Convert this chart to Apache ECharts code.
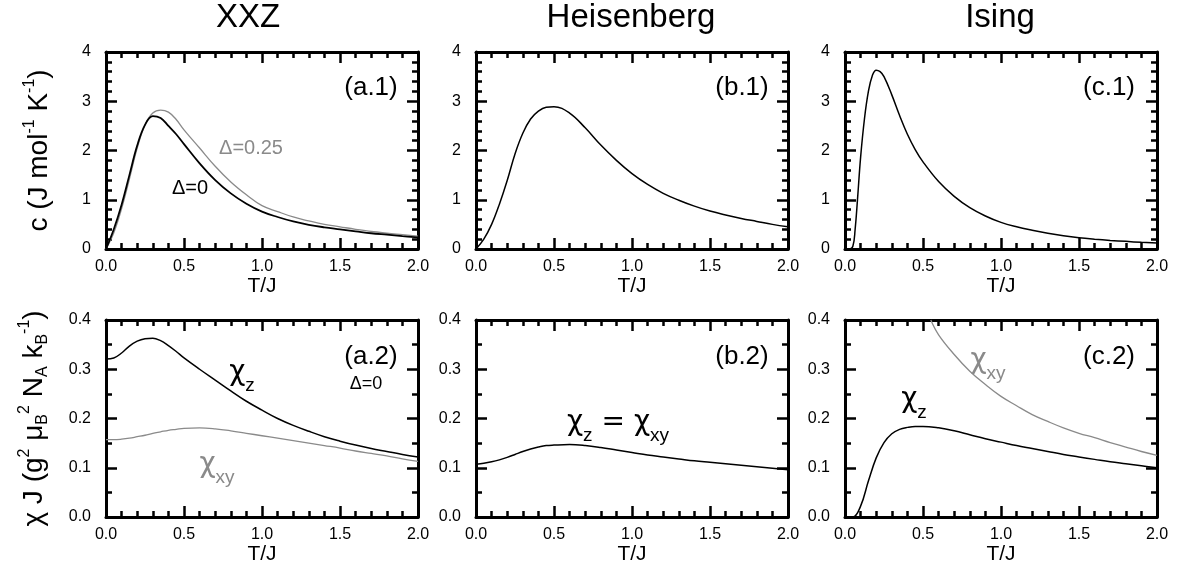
<!DOCTYPE html>
<html>
<head>
<meta charset="utf-8">
<title>XXZ / Heisenberg / Ising</title>
<script src="https://cdn.jsdelivr.net/npm/echarts@6/dist/echarts.min.js"></script>
<style>
  html, body { margin: 0; padding: 0; background: #fff; }
  #main { width: 1186px; height: 579px; }
</style>
</head>
<body>
<div id="main"></div>
<script>
// ---- values ----
var tGrid = [0, 0.05, 0.1, 0.15, 0.2, 0.25, 0.3, 0.35, 0.4, 0.45, 0.5,
             0.6, 0.7, 0.8, 0.9, 1.0, 1.1, 1.2, 1.3, 1.4, 1.5, 1.6, 1.7, 1.8, 1.9, 2.0];

// specific heat c (J mol^-1 K^-1)
var cXXZ0   = [0, 0.4, 0.9, 1.5, 2.1, 2.52, 2.70, 2.66, 2.5, 2.33, 2.13,
               1.74, 1.4, 1.13, 0.92, 0.76, 0.65, 0.56, 0.49, 0.44, 0.4, 0.36, 0.32, 0.29, 0.26, 0.235];
var cXXZ025 = [0, 0.33, 0.82, 1.42, 2.05, 2.52, 2.76, 2.82, 2.78, 2.63, 2.42,
               2.05, 1.68, 1.36, 1.1, 0.88, 0.76, 0.65, 0.57, 0.5, 0.45, 0.4, 0.36, 0.32, 0.29, 0.26];
var cHeis   = [0, 0.2, 0.5, 0.91, 1.39, 1.93, 2.35, 2.64, 2.8, 2.88, 2.89,
               2.76, 2.46, 2.11, 1.8, 1.53, 1.31, 1.13, 0.99, 0.87, 0.77, 0.69, 0.62, 0.56, 0.5, 0.45];
var tIsingC = [0, 0.025, 0.05, 0.065, 0.08, 0.1, 0.125, 0.15, 0.175, 0.2, 0.225, 0.25, 0.3, 0.35, 0.4, 0.45, 0.5,
               0.6, 0.7, 0.8, 0.9, 1.0, 1.1, 1.2, 1.3, 1.4, 1.5, 1.6, 1.7, 1.8, 1.9, 2.0];
var cIsing  = [0, 0, 0.05, 0.4, 1.0, 1.86, 2.65, 3.2, 3.52, 3.63, 3.6, 3.5, 3.13, 2.71, 2.33, 2.02, 1.77,
               1.37, 1.07, 0.84, 0.67, 0.54, 0.45, 0.38, 0.32, 0.27, 0.23, 0.2, 0.175, 0.155, 0.135, 0.12];

// susceptibility chi J
var chiZXXZ   = [0.321, 0.323, 0.333, 0.347, 0.357, 0.362, 0.363, 0.358, 0.348, 0.336, 0.323,
                 0.3, 0.278, 0.256, 0.235, 0.217, 0.2, 0.186, 0.174, 0.163, 0.154, 0.146, 0.139, 0.133, 0.127, 0.122];
var chiXYXXZ  = [0.157, 0.157, 0.158, 0.16, 0.163, 0.166, 0.17, 0.173, 0.176, 0.178, 0.18,
                 0.181, 0.179, 0.175, 0.17, 0.165, 0.16, 0.155, 0.15, 0.145, 0.14, 0.134, 0.129, 0.124, 0.118, 0.113];
var chiHeis   = [0.107, 0.109, 0.112, 0.116, 0.121, 0.127, 0.133, 0.138, 0.142, 0.145, 0.146,
                 0.147, 0.145, 0.141, 0.136, 0.131, 0.126, 0.122, 0.118, 0.114, 0.111, 0.108, 0.105, 0.102, 0.099, 0.096];
var chiZIsing = [0, 0, 0.022, 0.073, 0.12, 0.151, 0.169, 0.178, 0.182, 0.184, 0.184,
                 0.181, 0.175, 0.167, 0.159, 0.152, 0.145, 0.139, 0.133, 0.127, 0.122, 0.117, 0.112, 0.108, 0.104, 0.1];
var tIsingXY  = [0.55, 0.6, 0.7, 0.8, 0.9, 1.0, 1.1, 1.2, 1.3, 1.4, 1.5, 1.6, 1.7, 1.8, 1.9, 2.0];
var chiXYIsing = [0.40, 0.37, 0.33, 0.296, 0.269, 0.245, 0.226, 0.208, 0.194, 0.181, 0.17, 0.161, 0.151, 0.142, 0.133, 0.125];

var FONT = 'Liberation Sans, Arial, sans-serif';
var GRAY = '#8a8a8a';

function zip(t, v) {
  var out = [];
  for (var i = 0; i < t.length; i++) out.push([t[i], v[i]]);
  return out;
}

// panel layout (px)
var colLeft = [106, 476, 845];
var rowTop = [52, 320];
var W = 312, H = 197;

var grids = [], xAxes = [], yAxes = [], series = [];

function xAxis(g, top) {
  return {
    type: 'value', gridIndex: g, position: top ? 'top' : 'bottom',
    min: 0, max: 2, interval: 0.5,
    axisLine: { show: true, onZero: false, lineStyle: { color: '#000', width: 3 } },
    axisTick: { show: true, inside: true, length: 11, lineStyle: { color: '#000', width: 2.5 } },
    minorTick: { show: true, splitNumber: 5, length: 6, lineStyle: { color: '#000', width: 2.5 } },
    splitLine: { show: false },
    axisLabel: { show: !top, fontSize: 16, color: '#000', margin: 10,
      formatter: function (v) { return v.toFixed(1); } },
    name: top ? '' : 'T/J', nameLocation: 'middle', nameGap: 27,
    nameTextStyle: { fontSize: 21, color: '#000' }
  };
}

function yAxis(g, right, low) {
  return {
    type: 'value', gridIndex: g, position: right ? 'right' : 'left',
    min: 0, max: low ? 0.4 : 4, interval: low ? 0.1 : 1,
    axisLine: { show: true, onZero: false, lineStyle: { color: '#000', width: 3 } },
    axisTick: { show: true, inside: true, length: 11, lineStyle: { color: '#000', width: 2.5 } },
    minorTick: { show: true, splitNumber: low ? 2 : 5, length: 6, lineStyle: { color: '#000', width: 2.5 } },
    splitLine: { show: false },
    axisLabel: { show: !right, fontSize: 16, color: '#000', margin: 15,
      formatter: function (v) { return low ? v.toFixed(1) : String(Math.round(v)); } }
  };
}

for (var r = 0; r < 2; r++) {
  for (var c = 0; c < 3; c++) {
    var g = r * 3 + c;
    grids.push({ left: colLeft[c], top: rowTop[r], width: W, height: H });
    xAxes.push(xAxis(g, false), xAxis(g, true));
    yAxes.push(yAxis(g, false, r === 1), yAxis(g, true, r === 1));
  }
}

var supRich = {
  n: { fontSize: 28, lineHeight: 34, color: '#000' },
  s: { fontSize: 16, lineHeight: 16, verticalAlign: 'top', color: '#000' },
  b: { fontSize: 16, lineHeight: 16, verticalAlign: 'bottom', color: '#000' }
};
yAxes[0].name = '{n|c (J mol}{s|-1}{n| K}{s|-1}{n|)}';
yAxes[0].nameLocation = 'middle';
yAxes[0].nameRotate = 90;
yAxes[0].nameGap = 50;
yAxes[0].nameTextStyle = { rich: supRich };
yAxes[6].name = '{n|χ J (g}{s|2}{n| μ}{b|B}{s|2}{n| N}{b|A}{n| k}{b|B}{s|-1}{n|)}';
yAxes[6].nameLocation = 'middle';
yAxes[6].nameRotate = 90;
yAxes[6].nameGap = 55;
yAxes[6].nameTextStyle = { rich: supRich };

// symbols kept but invisible
function line(g, data, color, width) {
  return {
    type: 'line', xAxisIndex: g * 2, yAxisIndex: g * 2, data: data,
    showSymbol: true, symbol: 'circle', symbolSize: 0.1, smooth: 0.4, z: 3,
    itemStyle: { color: color, opacity: 0 },
    lineStyle: { color: color, width: width }
  };
}

series.push(line(0, zip(tGrid, cXXZ025), GRAY, 1.3));
series.push(line(0, zip(tGrid, cXXZ0), '#000', 1.8));
series.push(line(1, zip(tGrid, cHeis), '#000', 1.5));
series.push(line(2, zip(tIsingC, cIsing), '#000', 1.5));
series.push(line(3, zip(tGrid, chiXYXXZ), GRAY, 1.3));
series.push(line(3, zip(tGrid, chiZXXZ), '#000', 1.5));
series.push(line(4, zip(tGrid, chiHeis), '#000', 1.5));
series.push(line(5, zip(tIsingXY, chiXYIsing), GRAY, 1.3));
series.push(line(5, zip(tGrid, chiZIsing), '#000', 1.5));

// annotation texts
function txt(x, y, text, size, color) {
  return { type: 'text', x: x, y: y, silent: true,
    style: { text: text, fontSize: size, fontFamily: FONT, fill: color || '#000', align: 'center', verticalAlign: 'middle' } };
}
function chi(x, y, text, color) {
  var col = color || '#000';
  return { type: 'text', x: x, y: y, silent: true,
    style: { text: text, align: 'center', verticalAlign: 'middle', fill: col,
      rich: {
        c: { fontSize: 28, lineHeight: 44, fontFamily: 'DejaVu Sans, sans-serif', fill: col },
        s: { fontSize: 19, lineHeight: 19, verticalAlign: 'bottom', fontFamily: FONT, fill: col }
      } } };
}

var graphics = [
  txt(248, 18, 'XXZ', 33),
  txt(631, 18, 'Heisenberg', 33),
  txt(1000, 18, 'Ising', 33),
  txt(371, 88, '(a.1)', 26),
  txt(742, 88, '(b.1)', 26),
  txt(1109, 88, '(c.1)', 26),
  txt(371, 357, '(a.2)', 26),
  txt(742, 357, '(b.2)', 26),
  txt(1109, 357, '(c.2)', 26),
  txt(251, 148, 'Δ=0.25', 20, GRAY),
  txt(190, 188, 'Δ=0', 20),
  txt(366, 384, 'Δ=0', 18),
  chi(242, 373, '{c|χ}{s|z}'),
  chi(217, 465, '{c|χ}{s|xy}', GRAY),
  chi(618, 423, '{c|χ}{s|z}{c| = χ}{s|xy}'),
  chi(988, 361, '{c|χ}{s|xy}', GRAY),
  chi(914, 400, '{c|χ}{s|z}')
];

var chart = echarts.init(document.getElementById('main'));
chart.setOption({
  backgroundColor: '#fff',
  animation: false,
  textStyle: { fontFamily: FONT },
  grid: grids,
  xAxis: xAxes,
  yAxis: yAxes,
  series: series,
  graphic: graphics
});
</script>
</body>
</html>
